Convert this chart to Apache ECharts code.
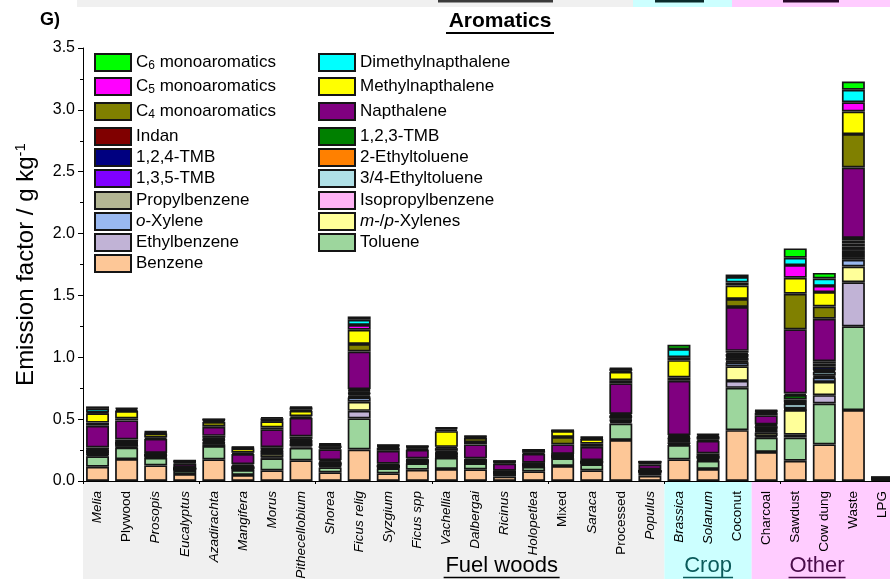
<!DOCTYPE html>
<html>
<head>
<meta charset="utf-8">
<script src="https://cdn.jsdelivr.net/npm/echarts@6/dist/echarts.min.js"></script>
<style>
  html, body { margin: 0; padding: 0; background: #fff; }
  #chart { width: 890px; height: 579px; }
</style>
</head>
<body>
<div id="chart"></div>
<script>
// Fuel categories, in axis order
const categories = ['Melia', 'Plywood', 'Prosopis', 'Eucalyptus', 'Azadirachta', 'Mangifera', 'Morus',
  'Pithecellobium', 'Shorea', 'Ficus relig', 'Syzgium', 'Ficus spp', 'Vachellia', 'Dalbergai', 'Ricinus',
  'Holopetlea', 'Mixed', 'Saraca', 'Processed', 'Populus', 'Brassica', 'Solanum', 'Coconut',
  'Charcoal', 'Sawdust', 'Cow dung', 'Waste', 'LPG'];
// genus names are set in italics
const italicLabels = [true, false, true, true, true, true, true, true, true, true, true, true, true, true, true,
  true, false, true, false, true, true, true, false, false, false, false, false, false];

// fuel groups (first and last category index)
const groupNames = ['Fuel woods', 'Crop', 'Other'];
const groupFirst = [0, 20, 23];
const groupLast = [19, 22, 27];

// y axis ticks
const yTicks = [0, 0.5, 1.0, 1.5, 2.0, 2.5, 3.0, 3.5];

// emission factors, g kg-1 (stacked bottom to top in this order)
const benzene = [0.115, 0.177, 0.126, 0.056, 0.175, 0.048, 0.086, 0.167, 0.070, 0.255, 0.062, 0.091, 0.097, 0.094, 0.035, 0.078, 0.121, 0.086, 0.331, 0.043, 0.175, 0.097, 0.411, 0.234, 0.164, 0.296, 0.573, 0.006];
const toluene = [0.085, 0.093, 0.062, 0.030, 0.107, 0.041, 0.097, 0.102, 0.040, 0.251, 0.040, 0.052, 0.091, 0.049, 0.027, 0.037, 0.062, 0.048, 0.134, 0.027, 0.115, 0.067, 0.342, 0.118, 0.188, 0.330, 0.677, 0.006];
const ethylbenzene = [0.008, 0.006, 0.004, 0.003, 0.015, 0.004, 0.006, 0.012, 0.008, 0.061, 0.004, 0.004, 0.004, 0.004, 0.002, 0.003, 0.004, 0.004, 0.012, 0.002, 0.008, 0.005, 0.056, 0.010, 0.022, 0.068, 0.357, 0.001];
const mpXylenes = [0.015, 0.015, 0.008, 0.004, 0.006, 0.005, 0.028, 0.018, 0.006, 0.073, 0.004, 0.004, 0.005, 0.004, 0.002, 0.004, 0.004, 0.004, 0.008, 0.002, 0.015, 0.010, 0.118, 0.030, 0.199, 0.107, 0.127, 0.002];
const oXylene = [0.005, 0.005, 0.003, 0.002, 0.005, 0.003, 0.005, 0.006, 0.005, 0.035, 0.003, 0.003, 0.004, 0.003, 0.002, 0.003, 0.003, 0.003, 0.006, 0.002, 0.008, 0.004, 0.033, 0.008, 0.004, 0.035, 0.054, 0.001];
const isopropylbenzene = [0.003, 0.002, 0.002, 0.001, 0.003, 0.002, 0.003, 0.003, 0.003, 0.006, 0.002, 0.002, 0.003, 0.002, 0.001, 0.002, 0.002, 0.002, 0.004, 0.001, 0.004, 0.003, 0.006, 0.004, 0.004, 0.008, 0.022, 0.001];
const propylbenzene = [0.004, 0.004, 0.002, 0.002, 0.012, 0.003, 0.005, 0.006, 0.004, 0.008, 0.003, 0.003, 0.010, 0.003, 0.002, 0.003, 0.003, 0.003, 0.012, 0.002, 0.006, 0.004, 0.008, 0.006, 0.005, 0.008, 0.025, 0.001];
const ethyltoluene34 = [0.004, 0.003, 0.002, 0.002, 0.006, 0.003, 0.006, 0.006, 0.004, 0.013, 0.002, 0.003, 0.004, 0.003, 0.001, 0.002, 0.003, 0.003, 0.006, 0.002, 0.008, 0.004, 0.020, 0.008, 0.040, 0.030, 0.025, 0.001];
const tmb135 = [0.004, 0.003, 0.002, 0.002, 0.004, 0.003, 0.004, 0.004, 0.003, 0.006, 0.002, 0.002, 0.003, 0.002, 0.001, 0.002, 0.003, 0.002, 0.004, 0.001, 0.004, 0.003, 0.008, 0.006, 0.005, 0.010, 0.015, 0.001];
const ethyltoluene2 = [0.003, 0.002, 0.002, 0.001, 0.003, 0.002, 0.003, 0.003, 0.002, 0.004, 0.002, 0.002, 0.002, 0.002, 0.001, 0.002, 0.002, 0.002, 0.003, 0.001, 0.003, 0.002, 0.005, 0.004, 0.004, 0.006, 0.020, 0.001];
const tmb124 = [0.006, 0.005, 0.003, 0.002, 0.008, 0.005, 0.006, 0.008, 0.006, 0.012, 0.003, 0.004, 0.006, 0.004, 0.002, 0.003, 0.004, 0.003, 0.006, 0.002, 0.008, 0.005, 0.020, 0.015, 0.025, 0.030, 0.025, 0.001];
const tmb123 = [0.005, 0.004, 0.003, 0.002, 0.006, 0.004, 0.006, 0.006, 0.005, 0.008, 0.002, 0.003, 0.005, 0.003, 0.002, 0.003, 0.004, 0.002, 0.004, 0.002, 0.006, 0.004, 0.010, 0.006, 0.035, 0.020, 0.025, 0.001];
const indan = [0.015, 0.016, 0.008, 0.005, 0.015, 0.012, 0.018, 0.020, 0.012, 0.010, 0.010, 0.010, 0.010, 0.010, 0.006, 0.005, 0.003, 0.006, 0.012, 0.006, 0.010, 0.015, 0.015, 0.008, 0.012, 0.020, 0.020, 0.001];
const napthalene = [0.175, 0.155, 0.115, 0.030, 0.073, 0.083, 0.145, 0.150, 0.089, 0.305, 0.105, 0.070, 0.022, 0.113, 0.058, 0.073, 0.078, 0.108, 0.248, 0.040, 0.440, 0.102, 0.355, 0.075, 0.519, 0.344, 0.569, 0.001];
const c4Mono = [0.025, 0.016, 0.010, 0.008, 0.040, 0.010, 0.015, 0.012, 0.010, 0.060, 0.025, 0.008, 0.010, 0.020, 0.010, 0.008, 0.060, 0.025, 0.025, 0.018, 0.027, 0.010, 0.064, 0.020, 0.288, 0.099, 0.270, 0.001];
const methylnapthalene = [0.075, 0.060, 0.032, 0.006, 0.012, 0.035, 0.050, 0.045, 0.015, 0.116, 0.010, 0.012, 0.127, 0.032, 0.004, 0.016, 0.048, 0.038, 0.067, 0.003, 0.140, 0.022, 0.108, 0.008, 0.129, 0.116, 0.183, 0.001];
const c5Mono = [0.006, 0.006, 0.005, 0.003, 0.004, 0.004, 0.006, 0.008, 0.006, 0.038, 0.006, 0.004, 0.012, 0.004, 0.002, 0.003, 0.003, 0.004, 0.008, 0.001, 0.024, 0.004, 0.025, 0.004, 0.102, 0.050, 0.075, 0.001];
const dimethylnapthalene = [0.030, 0.013, 0.008, 0.004, 0.004, 0.006, 0.018, 0.018, 0.008, 0.042, 0.004, 0.004, 0.012, 0.010, 0.002, 0.004, 0.002, 0.010, 0.018, 0.001, 0.065, 0.013, 0.045, 0.004, 0.059, 0.060, 0.100, 0.001];
const c6Mono = [0.020, 0.006, 0.006, 0.004, 0.002, 0.004, 0.008, 0.006, 0.008, 0.027, 0.004, 0.003, 0.006, 0.003, 0.002, 0.003, 0.002, 0.003, 0.006, 0.002, 0.035, 0.005, 0.020, 0.005, 0.076, 0.045, 0.067, 0.001];

// species, stack order (bottom first)
const seriesNames = ['Benzene', 'Toluene', 'Ethylbenzene', 'm-/p-Xylenes', 'o-Xylene', 'Isopropylbenzene',
  'Propylbenzene', '3/4-Ethyltoluene', '1,3,5-TMB', '2-Ethyltoluene', '1,2,4-TMB', '1,2,3-TMB', 'Indan',
  'Napthalene', 'C4 monoaromatics', 'Methylnapthalene', 'C5 monoaromatics', 'Dimethylnapthalene', 'C6 monoaromatics'];
const seriesValues = [benzene, toluene, ethylbenzene, mpXylenes, oXylene, isopropylbenzene, propylbenzene,
  ethyltoluene34, tmb135, ethyltoluene2, tmb124, tmb123, indan, napthalene, c4Mono, methylnapthalene,
  c5Mono, dimethylnapthalene, c6Mono];
const seriesColors = ['#fdc797', '#9dd69d', '#c1b3d6', '#ffff99', '#99b8f0', '#ffb3f5', '#b3b693', '#b0e0e6',
  '#8000ff', '#ff8000', '#000080', '#008000', '#800000', '#800080', '#808000', '#ffff00', '#ff00ff',
  '#00ffff', '#00ff00'];

// legend columns, top row first
const legendLeft = ['C6 monoaromatics', 'C5 monoaromatics', 'C4 monoaromatics', 'Indan', '1,2,4-TMB',
  '1,3,5-TMB', 'Propylbenzene', 'o-Xylene', 'Ethylbenzene', 'Benzene'];
const legendRight = ['Dimethylnapthalene', 'Methylnapthalene', 'Napthalene', '1,2,3-TMB', '2-Ethyltoluene',
  '3/4-Ethyltoluene', 'Isopropylbenzene', 'm-/p-Xylenes', 'Toluene'];

const FONT = '"Liberation Sans", Arial, Helvetica, sans-serif';
const rowCenters = [62, 86, 111, 136, 157, 178, 200, 221, 242, 263];

function legendText(name) {
  const m = name.match(/^C(\d) (.*)$/);
  if (m) return '{n|C}{sub|' + m[1] + '}{n| ' + m[2] + '}';
  if (name === 'o-Xylene') return '{i|o}{n|-Xylene}';
  if (name === 'm-/p-Xylenes') return '{i|m}{n|-/}{i|p}{n|-Xylenes}';
  return '{n|' + name + '}';
}

const legendRich = {
  n: { fontSize: 17, fontFamily: FONT, color: '#000', lineHeight: 19 },
  i: { fontSize: 17, fontFamily: FONT, color: '#000', fontStyle: 'italic', lineHeight: 19 },
  sub: { fontSize: 12, fontFamily: FONT, color: '#000', lineHeight: 12, verticalAlign: 'bottom', padding: [6, 0, 0, 0] }
};

function makeLegend(name, left, center) {
  return {
    data: [name],
    left: left,
    top: center - 9,
    padding: 0,
    itemWidth: 36,
    itemHeight: 17,
    icon: 'rect',
    selectedMode: false,
    formatter: legendText,
    textStyle: { fontSize: 17, fontFamily: FONT, color: '#000', rich: legendRich }
  };
}

const legends = [];
legendLeft.forEach((n, i) => legends.push(makeLegend(n, 94, rowCenters[i])));
legendRight.forEach((n, i) => legends.push(makeLegend(n, 318, rowCenters[i])));

const chart = echarts.init(document.getElementById('chart'), null, { renderer: 'canvas' });

const option = {
  animation: false,
  backgroundColor: '#fff',
  textStyle: { fontFamily: FONT },
  grid: { left: 83, top: 48, width: 814, height: 433, containLabel: false, outerBoundsMode: 'none' },
  legend: legends,
  xAxis: [{
    type: 'category',
    data: categories,
    z: 5,
    axisLine: { lineStyle: { color: '#000', width: 1 } },
    axisTick: { alignWithLabel: true, length: 9, lineStyle: { color: '#000' } },
    axisLabel: {
      rotate: 90, margin: 10, interval: 0, color: '#000', fontSize: 13.5,
      formatter: (v, i) => (italicLabels[i] ? '{i|' + v + '}' : '{n|' + v + '}'),
      rich: {
        i: { fontStyle: 'italic', fontSize: 13.5, fontFamily: FONT, color: '#000' },
        n: { fontSize: 13.5, fontFamily: FONT, color: '#000' }
      }
    }
  }, {
    type: 'category',
    data: categories,
    position: 'bottom',
    z: 5,
    axisLine: { show: false },
    axisTick: { show: true, length: 3, lineStyle: { color: '#000' } },
    axisLabel: { show: false }
  }],
  yAxis: {
    type: 'value',
    min: yTicks[0],
    max: yTicks[yTicks.length - 1],
    interval: 0.5,
    splitLine: { show: false },
    axisLine: { show: true, lineStyle: { color: '#000' } },
    axisTick: { show: true, length: 5, lineStyle: { color: '#000' } },
    minorTick: { show: true, splitNumber: 2, length: 3, lineStyle: { color: '#000' } },
    axisLabel: { color: '#000', fontSize: 16, margin: 8, formatter: v => v.toFixed(1) },
    name: '{n|Emission factor / g kg}{sup|-1}',
    nameLocation: 'middle',
    nameGap: 43,
    nameTextStyle: {
      fontSize: 24,
      rich: {
        n: { fontSize: 24, fontFamily: FONT, color: '#000', lineHeight: 27 },
        sup: { fontSize: 15, fontFamily: FONT, color: '#000', lineHeight: 15, verticalAlign: 'top' }
      }
    }
  },
  series: seriesNames.map((name, k) => ({
    name: name,
    type: 'bar',
    stack: 'total',
    xAxisIndex: 0,
    barWidth: '79%',
    data: seriesValues[k],
    itemStyle: { color: seriesColors[k], borderColor: '#151515', borderWidth: 1.7 }
  }))
};

chart.setOption(option);

// decorations that follow the axis layout: group bands, group titles, panel title
const x0 = chart.convertToPixel({ xAxisIndex: 0 }, 0);
const x1 = chart.convertToPixel({ xAxisIndex: 0 }, 1);
const step = x1 - x0;
const yBase = chart.convertToPixel({ yAxisIndex: 0 }, 0);
const bandColors = ['#f0f0f0', '#ccffff', '#ffccff'];
const groupTextColors = ['#000000', '#0b5b5b', '#4a0c4a'];
const groupLabelPos = [13.9, 21.0, 24.75];
const H = chart.getHeight();

const graphics = [];
groupNames.forEach((g, k) => {
  const left = x0 + (groupFirst[k] - 0.5) * step;
  const right = x0 + (groupLast[k] + 0.5) * step;
  graphics.push({
    type: 'rect', z: -10, silent: true,
    shape: { x: left, y: yBase, width: right - left, height: H - yBase },
    style: { fill: bandColors[k] }
  });
  const cx = x0 + groupLabelPos[k] * step;
  graphics.push({
    type: 'text', z: 10, silent: true,
    style: { text: g, x: cx, y: 566, align: 'center', verticalAlign: 'middle',
      font: '22px ' + FONT, fill: groupTextColors[k] }
  });
});
// underlines for the group titles
const gw = [116, 50, 57];
groupNames.forEach((g, k) => {
  const cx = x0 + groupLabelPos[k] * step;
  graphics.push({
    type: 'line', z: 10, silent: true,
    shape: { x1: cx - gw[k] / 2, y1: 577.5, x2: cx + gw[k] / 2, y2: 577.5 },
    style: { stroke: groupTextColors[k], lineWidth: 1.5 }
  });
});

// strip left over from the panel above
graphics.push(
  { type: 'rect', silent: true, shape: { x: 77, y: 0, width: 556, height: 7 }, style: { fill: '#f0f0f0' } },
  { type: 'rect', silent: true, shape: { x: 633, y: 0, width: 99, height: 7 }, style: { fill: '#ccffff' } },
  { type: 'rect', silent: true, shape: { x: 732, y: 0, width: 158, height: 7 }, style: { fill: '#ffccff' } },
  { type: 'rect', silent: true, shape: { x: 438, y: 0, width: 115, height: 2.5 }, style: { fill: '#3a3a3a' } },
  { type: 'rect', silent: true, shape: { x: 655, y: 0, width: 49, height: 2.5 }, style: { fill: '#0b2b2b' } },
  { type: 'rect', silent: true, shape: { x: 783, y: 0, width: 56, height: 2.5 }, style: { fill: '#2a082a' } }
);

// panel letter and title
graphics.push(
  { type: 'text', silent: true, style: { text: 'G)', x: 40, y: 20, verticalAlign: 'middle', font: 'bold 18px ' + FONT, fill: '#000' } },
  { type: 'text', silent: true, style: { text: 'Aromatics', x: 500, y: 21, align: 'center', verticalAlign: 'middle', font: 'bold 21px ' + FONT, fill: '#000' } },
  { type: 'line', silent: true, shape: { x1: 446, y1: 33, x2: 554, y2: 33 }, style: { stroke: '#000', lineWidth: 2 } }
);

chart.setOption({ graphic: graphics });
</script>
</body>
</html>
